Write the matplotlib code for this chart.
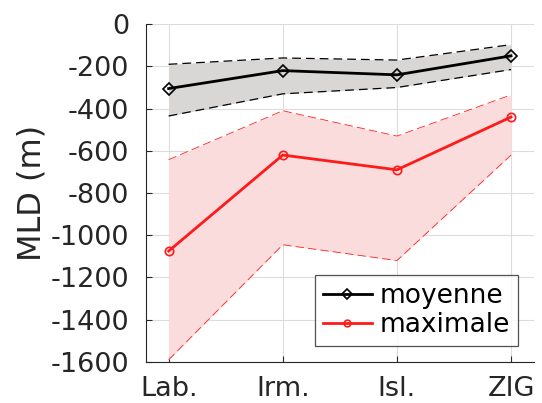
import numpy as np
import matplotlib.pyplot as plt

plt.rcParams['axes.unicode_minus'] = False

sites = ['Lab.', 'Irm.', 'Isl.', 'ZIG']
mean_mld = [-305, -220, -240, -150]
mean_hi = [-190, -160, -170, -97]
mean_lo = [-435, -330, -300, -215]
max_mld = [-1075, -620, -690, -440]
max_hi = [-642, -410, -530, -335]
max_lo = [-1590, -1045, -1120, -620]

x = np.arange(1, len(sites) + 1)
txt = '#262626'

fig = plt.figure(figsize=(5.42, 4.03), dpi=100)
ax = fig.add_axes([0.269, 0.102, 0.716, 0.838])

# enveloppes
ax.fill_between(x, mean_lo, mean_hi, color='#d9d6d6', lw=0, zorder=1)
ax.plot(x, mean_hi, '--', color='black', lw=0.9, dashes=(7, 4), zorder=2)
ax.plot(x, mean_lo, '--', color='black', lw=0.9, dashes=(7, 4), zorder=2)
ax.fill_between(x, max_lo, max_hi, color='#fadcdc', lw=0, zorder=1)
ax.plot(x, max_hi, '--', color='#ff2020', lw=0.6, dashes=(10, 5), zorder=2)
ax.plot(x, max_lo, '--', color='#ff2020', lw=0.6, dashes=(10, 5), zorder=2)

ax.plot(x, mean_mld, '-', color='black', lw=2, marker='D', ms=6,
        mfc='none', mew=1.2, label='moyenne', zorder=3)
ax.plot(x, max_mld, '-', color='#ff1a1a', lw=2, marker='o', ms=6,
        mfc='none', mew=1.2, label='maximale', zorder=3)

ax.set_xlim(0.8, 4.2)
ax.set_ylim(-1600, 0)
ax.set_xticks(x)
ax.set_xticklabels(sites)
ax.set_yticks(np.arange(-1600, 1, 200))
ax.set_ylabel('MLD (m)', fontsize=23, color=txt, labelpad=2)
ax.tick_params(axis='both', labelsize=19.5, labelcolor=txt, direction='in',
               color=txt, length=4)
ax.tick_params(axis='y', pad=12)
ax.tick_params(axis='x', pad=10)
ax.grid(True, color='#dcdcdc', lw=0.8)
ax.set_axisbelow(True)
for s in ['top', 'right']:
    ax.spines[s].set_visible(False)
for s in ['left', 'bottom']:
    ax.spines[s].set_color(txt)

leg = ax.legend(loc='lower right', fontsize=19, frameon=True, fancybox=False,
                edgecolor=txt, handlelength=1.85, handletextpad=0.3,
                borderpad=0.3, labelspacing=0.12, borderaxespad=0.6,
                markerscale=0.8)
leg.get_frame().set_linewidth(0.9)
for t in leg.get_texts():
    t.set_color('black')

fig.savefig('out.png', dpi=100)
